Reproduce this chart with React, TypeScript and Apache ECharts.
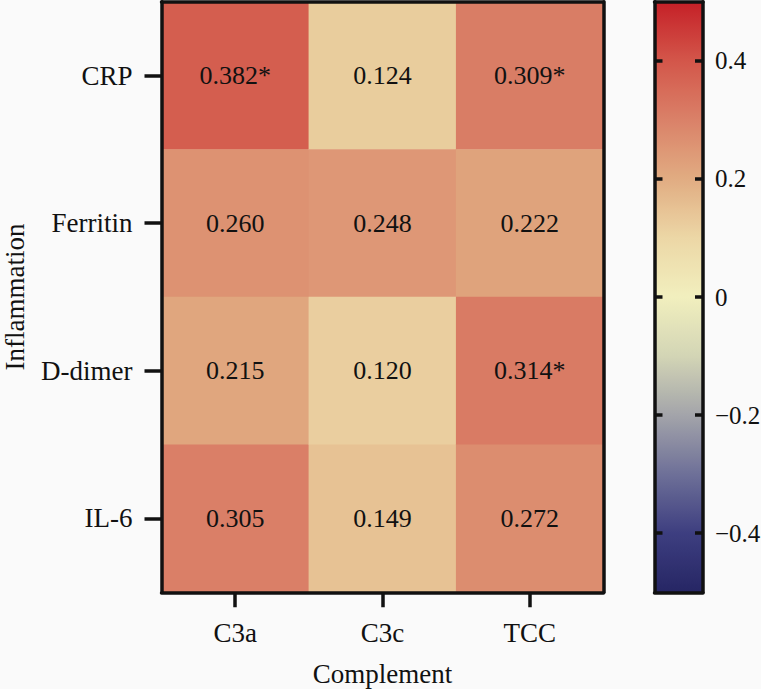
import React, { useEffect, useRef } from "react";
import * as echarts from "echarts";

const complement = ["C3a", "C3c", "TCC"];
const inflammation = ["CRP", "Ferritin", "D-dimer", "IL-6"];
const c3aValues = [0.382, 0.26, 0.215, 0.305];
const c3cValues = [0.124, 0.248, 0.12, 0.149];
const tccValues = [0.309, 0.222, 0.314, 0.272];
const c3aSignificant = [true, false, false, false];
const c3cSignificant = [false, false, false, false];
const tccSignificant = [true, false, true, false];
const colorbarTicks = [-0.4, -0.2, 0, 0.2, 0.4];
const colorStops = [
  "#262664",
  "#3d3e80",
  "#6e7098",
  "#a3a4aa",
  "#d3d5b5",
  "#f1efbe",
  "#ecd7a6",
  "#e1ac82",
  "#da8168",
  "#d3564a",
  "#c52027",
];

const FONT = '"Liberation Serif", "Times New Roman", "DejaVu Serif", serif';
const INK = "#111111";

export default function App() {
  const ref = useRef<HTMLDivElement>(null);

  useEffect(() => {
    if (!ref.current) return;
    const chart = echarts.init(ref.current, undefined, { renderer: "svg" });

    const columns = [
      { values: c3aValues, sig: c3aSignificant },
      { values: c3cValues, sig: c3cSignificant },
      { values: tccValues, sig: tccSignificant },
    ];
    const data: any[] = [];
    columns.forEach((col, xi) => {
      col.values.forEach((v, yi) => {
        data.push({
          value: [xi, yi, v],
          label: { formatter: v.toFixed(3) + (col.sig[yi] ? "*" : "") },
        });
      });
    });

    const lineStyle = { color: INK, width: 3.5 };
    const fmt = (v: number) => {
      const r = Math.round(v * 10) / 10;
      if (r === 0) return "0";
      return (r < 0 ? "\u2212" : "") + Math.abs(r).toString();
    };
    const frameAxisLine = { show: true, onZero: false, lineStyle };

    const gridMain = {
      left: 161.5,
      top: 1.75,
      width: 442,
      height: 590.5,
      outerBoundsMode: "none",
      containLabel: false,
    };
    const gridBar = {
      left: 654.5,
      top: 1.75,
      width: 48.5,
      height: 590.5,
      outerBoundsMode: "none",
      containLabel: false,
    };

    chart.setOption({
      animation: false,
      backgroundColor: "#fafafa",
      textStyle: { fontFamily: FONT, color: INK },
      grid: [gridMain, gridBar],
      xAxis: [
        {
          type: "category",
          gridIndex: 0,
          data: complement,
          position: "bottom",
          z: 10,
          axisLine: frameAxisLine,
          axisTick: { show: true, alignWithLabel: true, length: 15, lineStyle },
          axisLabel: { fontFamily: FONT, fontSize: 27, color: INK, margin: 27 },
          name: "Complement",
          nameLocation: "middle",
          nameGap: 68,
          nameTextStyle: { fontFamily: FONT, fontSize: 27, color: INK },
          splitLine: { show: false },
          splitArea: { show: false },
        },
        {
          type: "category",
          gridIndex: 0,
          data: complement,
          position: "top",
          z: 10,
          axisLine: frameAxisLine,
          axisTick: { show: false },
          axisLabel: { show: false },
        },
        {
          type: "value",
          gridIndex: 1,
          min: 0,
          max: 1,
          position: "bottom",
          z: 10,
          axisLine: frameAxisLine,
          axisTick: { show: false },
          axisLabel: { show: false },
          splitLine: { show: false },
        },
        {
          type: "value",
          gridIndex: 1,
          min: 0,
          max: 1,
          position: "top",
          z: 10,
          axisLine: frameAxisLine,
          axisTick: { show: false },
          axisLabel: { show: false },
          splitLine: { show: false },
        },
      ],
      yAxis: [
        {
          type: "category",
          gridIndex: 0,
          data: inflammation,
          inverse: true,
          position: "left",
          z: 10,
          axisLine: frameAxisLine,
          axisTick: { show: true, alignWithLabel: true, length: 17, lineStyle },
          axisLabel: { fontFamily: FONT, fontSize: 27, color: INK, margin: 29 },
          name: "Inflammation",
          nameLocation: "middle",
          nameGap: 133,
          nameRotate: 90,
          nameTextStyle: { fontFamily: FONT, fontSize: 27, color: INK },
          splitLine: { show: false },
          splitArea: { show: false },
        },
        {
          type: "category",
          gridIndex: 0,
          data: inflammation,
          inverse: true,
          position: "right",
          z: 10,
          axisLine: frameAxisLine,
          axisTick: { show: false },
          axisLabel: { show: false },
        },
        {
          type: "value",
          gridIndex: 1,
          min: -0.5,
          max: 0.5,
          position: "right",
          z: 10,
          axisLine: frameAxisLine,
          axisTick: { show: true, inside: true, length: 8, lineStyle, customValues: colorbarTicks },
          axisLabel: {
            fontFamily: FONT,
            fontSize: 25,
            color: INK,
            margin: 12,
            customValues: colorbarTicks,
            formatter: fmt,
          },
          splitLine: { show: false },
        },
        {
          type: "value",
          gridIndex: 1,
          min: -0.5,
          max: 0.5,
          position: "left",
          z: 10,
          axisLine: frameAxisLine,
          axisTick: { show: true, inside: true, length: 8, lineStyle, customValues: colorbarTicks },
          axisLabel: { show: false },
          splitLine: { show: false },
        },
      ],
      visualMap: {
        type: "continuous",
        min: -0.5,
        max: 0.5,
        orient: "vertical",
        left: 654.5,
        top: 1.75,
        itemWidth: 48.5,
        itemHeight: 590.5,
        padding: 0,
        calculable: false,
        hoverLink: false,
        seriesIndex: 0,
        inRange: { color: colorStops },
      },
      series: [
        {
          type: "heatmap",
          xAxisIndex: 0,
          yAxisIndex: 0,
          data,
          itemStyle: { borderWidth: 0 },
          label: {
            show: true,
            fontFamily: FONT,
            fontSize: 26,
            color: INK,
          },
          emphasis: { disabled: true },
        },
      ],
    });

    return () => chart.dispose();
  }, []);

  return (
    <div
      ref={ref}
      style={{ position: "fixed", left: 0, top: 0, width: 761, height: 689, background: "#fafafa" }}
    />
  );
}
